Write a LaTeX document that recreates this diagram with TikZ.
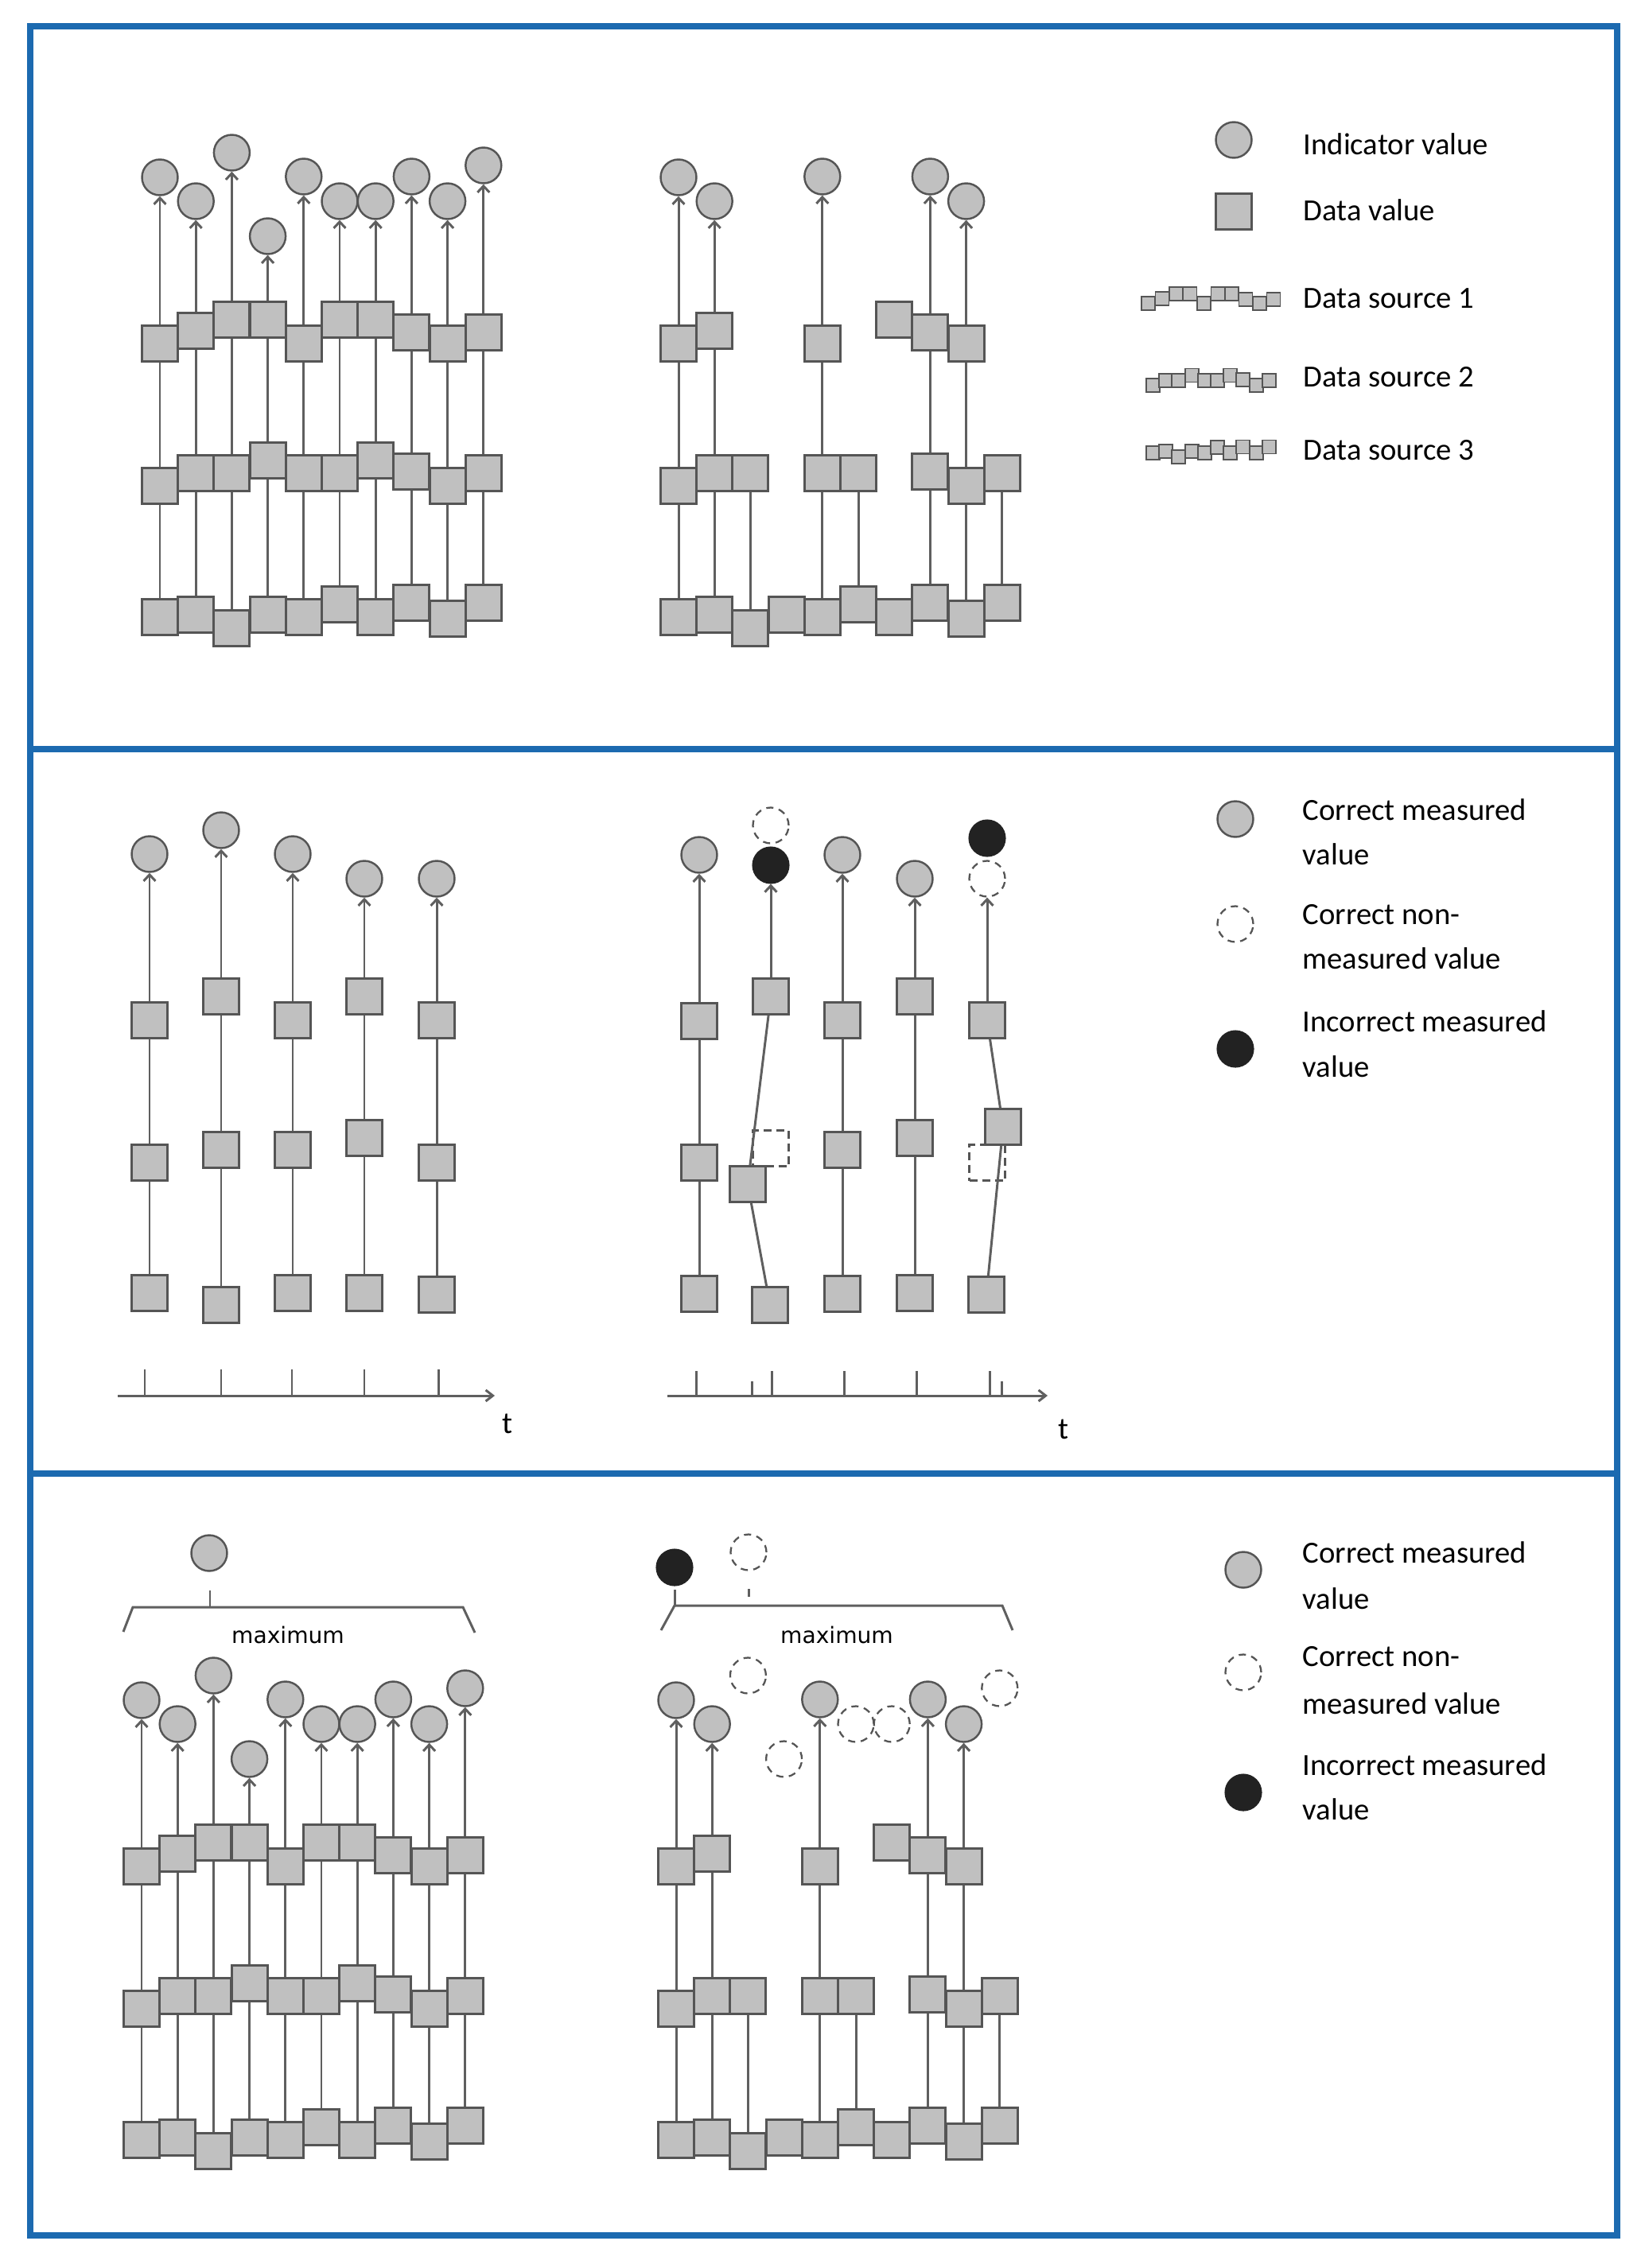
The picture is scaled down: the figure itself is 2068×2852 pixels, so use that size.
\documentclass[tikz,border=0pt]{standalone}
\usepackage{fontspec}
\setmainfont{Carlito}
\newfontfamily\djv{DejaVu Sans}
\usetikzlibrary{arrows.meta}
\definecolor{fillgray}{RGB}{192,192,192}
\definecolor{edgegray}{RGB}{85,85,85}
\definecolor{linegray}{RGB}{95,95,95}
\definecolor{frameblue}{RGB}{28,106,176}
\definecolor{darkfill}{RGB}{34,34,34}
\def\CY{{223,253,192,297,222,253,253,222,253,208}}
\def\TY{{432,416,402,402,432,402,402,418,432,418}}
\def\MY{{611,595,595,579,595,595,579,593,611,595}}
\def\BY{{776,773,790,773,776,760,776,758,778,758}}
% #1 prefix, #2 x0, #3 dy, #4 circles, #5 top, #6 mid, #7 bottom
\newcommand\mkgrid[7]{%
  \foreach \i in {#7} {\pgfmathsetmacro\xx{#2+45.2*(\i-1)}\pgfmathsetmacro\yy{\BY[\i-1]+#3}\node[sq] (#1b\i) at (\xx,\yy) {};}
  \foreach \i in {#6} {\pgfmathsetmacro\xx{#2+45.2*(\i-1)}\pgfmathsetmacro\yy{\MY[\i-1]+#3}\node[sq] (#1m\i) at (\xx,\yy) {};}
  \foreach \i in {#5} {\pgfmathsetmacro\xx{#2+45.2*(\i-1)}\pgfmathsetmacro\yy{\TY[\i-1]+#3}\node[sq] (#1t\i) at (\xx,\yy) {};}
  \foreach \i in {#4} {\pgfmathsetmacro\xx{#2+45.2*(\i-1)}\pgfmathsetmacro\yy{\CY[\i-1]+#3}\node[ci] (#1c\i) at (\xx,\yy) {};}
}
% #1 prefix, #2 bottom-mid links, #3 mid-top links, #4 top-circle arrows
\newcommand\mklinks[4]{%
  \foreach \i in {#2} {\draw[link] (#1b\i) -- (#1m\i);}
  \foreach \i in {#3} {\draw[link] (#1m\i) -- (#1t\i);}
  \foreach \i in {#4} {\draw[arr] (#1t\i) -- (#1c\i);}
}
\begin{document}
\begin{tikzpicture}[x=0.1mm,y=-0.1mm,
  sq/.style={draw=edgegray, fill=fillgray, minimum size=4.5mm, inner sep=0pt, line width=0.85pt},
  sqd/.style={draw=edgegray, fill=white, dash pattern=on 1mm off 0.6mm, minimum size=4.5mm, inner sep=0pt, line width=0.75pt},
  tiny/.style={draw=edgegray, fill=fillgray, minimum size=1.7mm, inner sep=0pt, line width=0.55pt},
  ci/.style={circle, draw=edgegray, fill=fillgray, minimum size=4.5mm, inner sep=0pt, line width=0.7pt},
  cid/.style={circle, draw=edgegray, fill=white, dash pattern=on 0.9mm off 0.7mm, minimum size=4.5mm, inner sep=0pt, line width=0.65pt},
  cib/.style={circle, draw=darkfill, fill=darkfill, minimum size=4.5mm, inner sep=0pt, line width=0.6pt},
  link/.style={draw=linegray, line width=0.85pt},
  arr/.style={link, -{Straight Barb[length=0.8mm,width=1.5mm]}},
  axisline/.style={link, -{Straight Barb[length=0.9mm,width=1.4mm]}},
  lbl/.style={anchor=base west, inner sep=0pt, font=\fontsize{11pt}{13pt}\selectfont},
  tlbl/.style={inner sep=0pt, font=\fontsize{11pt}{13pt}\selectfont},
  mx/.style={anchor=base, inner sep=0pt, font=\djv\fontsize{8pt}{10pt}\selectfont},
  frame/.style={draw=frameblue, line width=0.8mm}]
\useasboundingbox (0,0) rectangle (2068,2852);

% ---------- frame ----------
\draw[frame] (38,33) rectangle (2033,2811);
\draw[frame] (38,942) -- (2033,942);
\draw[frame] (38,1853) -- (2033,1853);

% ---------- top panel ----------
\mkgrid{TL}{201}{0}{1,...,10}{1,...,10}{1,...,10}{1,...,10}
\mklinks{TL}{1,...,10}{1,...,10}{1,...,10}
\mkgrid{TR}{853}{0}{1,2,5,8,9}{1,2,5,7,8,9}{1,2,3,5,6,8,9,10}{1,...,10}
\mklinks{TR}{1,2,3,5,6,8,9,10}{1,2,5,8,9}{1,2,5,8,9}

% top legend
\node[ci] (L1c) at (1551,176) {};
\node[lbl] (L1ct) at (1638,194) {Indicator value};
\node[sq] (L1s) at (1551,266) {};
\node[lbl] (L1st) at (1638,277) {Data value};
\foreach \i in {1,...,10} {\pgfmathsetmacro\xx{1443.5+17.5*(\i-1)}\pgfmathsetmacro\yy{381.5+0.39*(\TY[\i-1]-432)}\node[tiny] (DSa\i) at (\xx,\yy) {};}
\node[lbl] (DSat) at (1638,387) {Data source 1};
\foreach \i in {1,...,10} {\pgfmathsetmacro\xx{1449.5+16.2*(\i-1)}\pgfmathsetmacro\yy{484.5+0.39*(\MY[\i-1]-611)}\node[tiny] (DSb\i) at (\xx,\yy) {};}
\node[lbl] (DSbt) at (1638,486) {Data source 2};
\foreach \i in {1,...,10} {\pgfmathsetmacro\xx{1449.5+16.2*(\i-1)}\pgfmathsetmacro\yy{574.5+0.39*(\BY[\i-1]-790)}\node[tiny] (DSc\i) at (\xx,\yy) {};}
\node[lbl] (DSct) at (1638,578) {Data source 3};

% ---------- middle panel, left ----------
\foreach \i/\x/\c/\t/\m/\b in {1/188/1074/1283/1462/1626, 2/278/1044/1253/1446/1641, 3/368/1074/1283/1446/1626, 4/458/1105/1253/1431/1626, 5/549/1105/1283/1462/1628}{
  \node[ci] (MLc\i) at (\x,\c) {};
  \node[sq] (MLt\i) at (\x,\t) {};
  \node[sq] (MLm\i) at (\x,\m) {};
  \node[sq] (MLb\i) at (\x,\b) {};
  \draw[link] (MLb\i) -- (MLm\i);
  \draw[link] (MLm\i) -- (MLt\i);
  \draw[arr] (MLt\i) -- (MLc\i);
}
\coordinate (MLa0) at (148,1755);
\coordinate (MLa1) at (622,1755);
\draw[axisline] (MLa0) -- (MLa1);
\foreach \x in {182,278,367,458,551} {\draw[link] (\x,1755) -- (\x,1722);}
\node[tlbl] (MLtl) at (638,1790) {t};

% ---------- middle panel, right ----------
% column 1
\node[ci] (MRc1) at (879,1075) {};
\node[sq] (MRt1) at (879,1284) {};
\node[sq] (MRm1) at (879,1462) {};
\node[sq] (MRb1) at (879,1627) {};
\draw[link] (MRb1) -- (MRm1);
\draw[link] (MRm1) -- (MRt1);
\draw[arr] (MRt1) -- (MRc1);
% column 2
\node[cid] (MRd2) at (969,1038) {};
\node[cib] (MRc2) at (969,1088) {};
\node[sq] (MRt2) at (969,1253) {};
\node[sqd] (MRq2) at (969,1444) {};
\node[sq] (MRm2) at (940,1489) {};
\node[sq] (MRb2) at (968,1641) {};
\draw[link] (MRb2) -- (MRm2);
\draw[link] (MRm2) -- (MRt2);
\draw[arr] (MRt2) -- (MRc2);
% column 3
\node[ci] (MRc3) at (1059,1075) {};
\node[sq] (MRt3) at (1059,1283) {};
\node[sq] (MRm3) at (1059,1446) {};
\node[sq] (MRb3) at (1059,1627) {};
\draw[link] (MRb3) -- (MRm3);
\draw[link] (MRm3) -- (MRt3);
\draw[arr] (MRt3) -- (MRc3);
% column 4
\node[ci] (MRc4) at (1150,1105) {};
\node[sq] (MRt4) at (1150,1253) {};
\node[sq] (MRm4) at (1150,1431) {};
\node[sq] (MRb4) at (1150,1626) {};
\draw[link] (MRb4) -- (MRm4);
\draw[link] (MRm4) -- (MRt4);
\draw[arr] (MRt4) -- (MRc4);
% column 5
\node[cib] (MRe5) at (1241,1054) {};
\node[cid] (MRc5) at (1241,1105) {};
\node[sq] (MRt5) at (1241,1283) {};
\node[sqd] (MRq5) at (1241,1462) {};
\node[sq] (MRm5) at (1261,1417) {};
\node[sq] (MRb5) at (1240,1628) {};
\draw[link] (MRb5) -- (MRm5);
\draw[link] (MRm5) -- (MRt5);
\draw[arr] (MRt5) -- (MRc5);
\coordinate (MRa0) at (839,1755);
\coordinate (MRa1) at (1317,1755);
\draw[axisline] (MRa0) -- (MRa1);
\foreach \x in {875,970,1061,1152,1244} {\draw[link] (\x,1755) -- (\x,1724);}
\foreach \x in {945,1259} {\draw[link] (\x,1755) -- (\x,1737);}
\node[tlbl] (MRtl) at (1337,1797) {t};

% middle legend
\node[ci] (L2a) at (1553,1030) {};
\node[lbl] (L2at) at (1637,1031) {Correct measured};
\node[lbl] (L2au) at (1637,1087) {value};
\node[cid] (L2b) at (1553,1162) {};
\node[lbl] (L2bt) at (1637,1162) {Correct non-};
\node[lbl] (L2bu) at (1637,1218) {measured value};
\node[cib] (L2c) at (1553,1319) {};
\node[lbl] (L2ct) at (1637,1297) {Incorrect measured};
\node[lbl] (L2cu) at (1637,1354) {value};

% ---------- bottom panel ----------
\mkgrid{BL}{178}{1915}{1,...,10}{1,...,10}{1,...,10}{1,...,10}
\mklinks{BL}{1,...,10}{1,...,10}{1,...,10}
\node[ci] (BLmax) at (263,1953) {};
\coordinate (BLl) at (155,2052);
\coordinate (BLa) at (167,2021);
\coordinate (BLb) at (582,2021);
\coordinate (BLr) at (597,2053);
\coordinate (BLs0) at (264,2021);
\coordinate (BLs1) at (264,2000);
\draw[link] (BLl) -- (BLa) -- (BLb) -- (BLr);
\draw[link] (BLs0) -- (BLs1);
\node[mx] (BLmx) at (362,2066) {maximum};

\mkgrid{BR}{850}{1915}{1,2,5,8,9}{1,2,5,7,8,9}{1,2,3,5,6,8,9,10}{1,...,10}
\mklinks{BR}{1,2,3,5,6,8,9,10}{1,2,5,8,9}{1,2,5,8,9}
\foreach \i in {3,4,6,7,10} {\pgfmathsetmacro\xx{850+45.2*(\i-1)}\pgfmathsetmacro\yy{\CY[\i-1]+1915}\node[cid] (BRd\i) at (\xx,\yy) {};}
\node[cib] (BRmax) at (848,1971) {};
\node[cid] (BRmaxd) at (941,1952) {};
\coordinate (BRl) at (831,2050);
\coordinate (BRa) at (848,2019);
\coordinate (BRb) at (1260,2019);
\coordinate (BRr) at (1273,2050);
\coordinate (BRs1) at (848,1999);
\coordinate (BRd0) at (941,1998);
\coordinate (BRd1) at (941,2008);
\draw[link] (BRl) -- (BRa) -- (BRb) -- (BRr);
\draw[link] (BRa) -- (BRs1);
\draw[link] (BRd0) -- (BRd1);
\node[mx] (BRmx) at (1052,2066) {maximum};

% bottom legend
\node[ci] (L3a) at (1563,1974) {};
\node[lbl] (L3at) at (1637,1965) {Correct measured};
\node[lbl] (L3au) at (1637,2023) {value};
\node[cid] (L3b) at (1563,2103) {};
\node[lbl] (L3bt) at (1637,2095) {Correct non-};
\node[lbl] (L3bu) at (1637,2155) {measured value};
\node[cib] (L3c) at (1563,2254) {};
\node[lbl] (L3ct) at (1637,2232) {Incorrect measured};
\node[lbl] (L3cu) at (1637,2288) {value};
\end{tikzpicture}
\end{document}
